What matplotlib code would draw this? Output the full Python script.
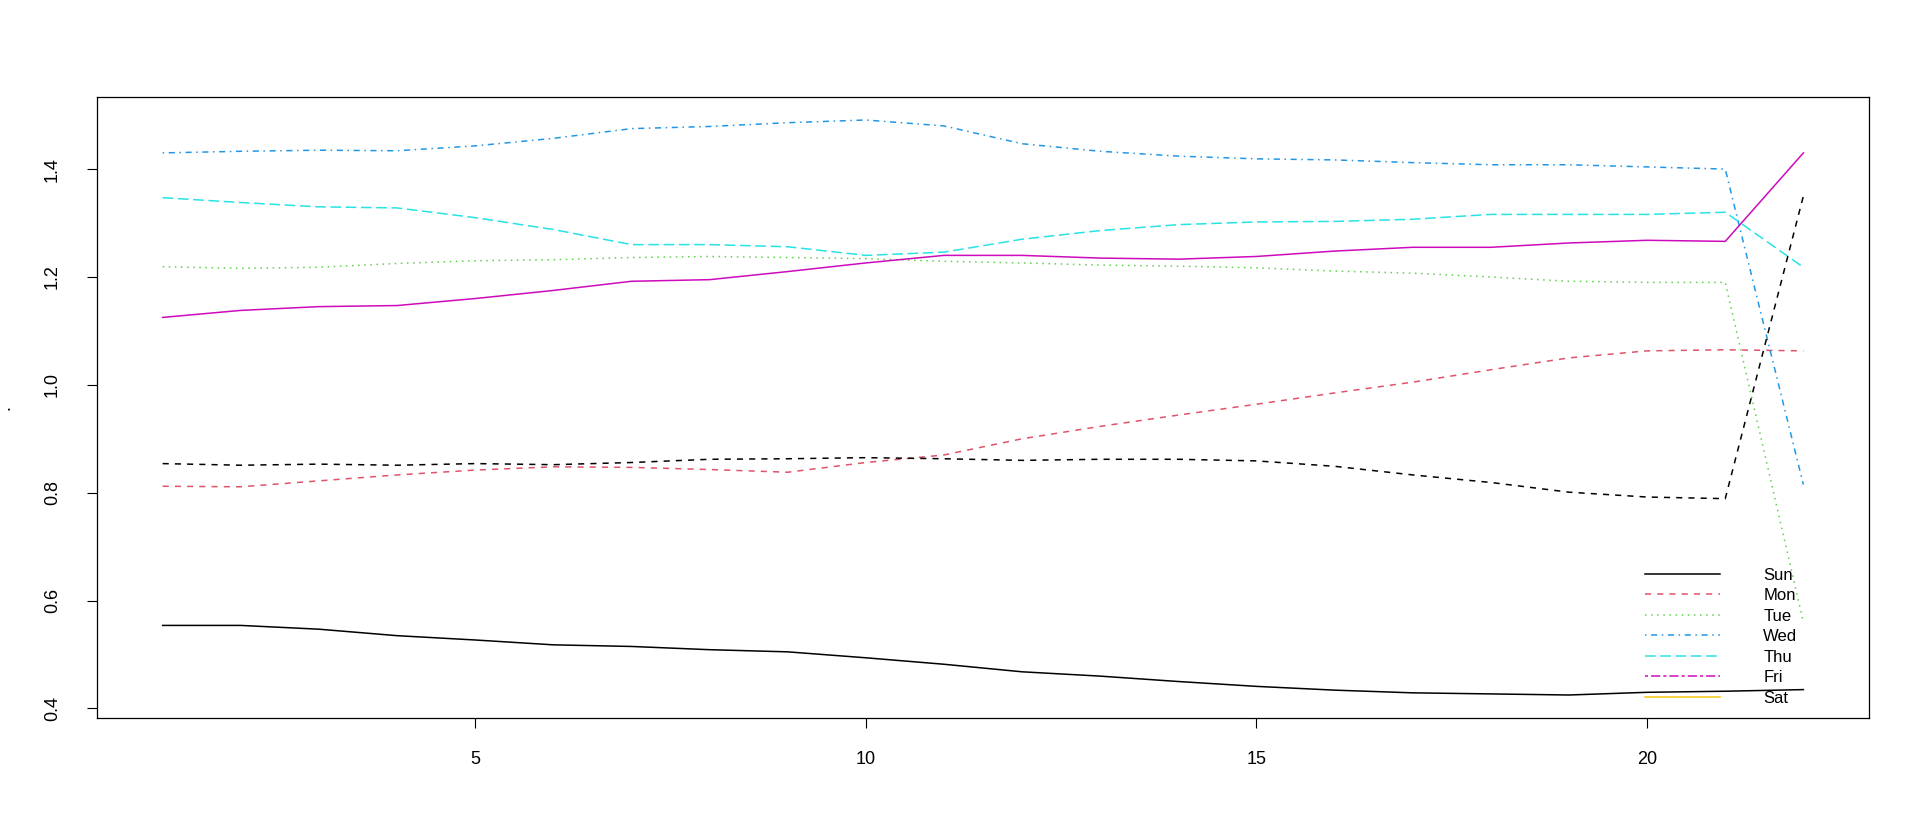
import matplotlib
matplotlib.use("Agg")
import matplotlib.pyplot as plt
import numpy as np
from matplotlib.lines import Line2D

plt.rcParams['font.family'] = ['Liberation Sans', 'DejaVu Sans']

x = np.arange(1, 23)

s1 = [0.554, 0.554, 0.547, 0.535, 0.527, 0.518, 0.515, 0.509, 0.505, 0.494, 0.482,
      0.468, 0.460, 0.450, 0.441, 0.434, 0.429, 0.427, 0.425, 0.430, 0.432, 0.435]
s2 = [0.812, 0.811, 0.822, 0.833, 0.842, 0.848, 0.847, 0.843, 0.838, 0.856, 0.870,
      0.900, 0.923, 0.944, 0.964, 0.985, 1.005, 1.028, 1.050, 1.063, 1.065, 1.063]
s3 = [1.219, 1.216, 1.218, 1.225, 1.230, 1.232, 1.236, 1.238, 1.236, 1.234, 1.229,
      1.226, 1.222, 1.220, 1.217, 1.211, 1.207, 1.200, 1.192, 1.190, 1.190, 0.560]
s4 = [1.430, 1.433, 1.435, 1.434, 1.443, 1.457, 1.475, 1.479, 1.486, 1.491, 1.480,
      1.447, 1.433, 1.424, 1.419, 1.417, 1.412, 1.408, 1.408, 1.404, 1.400, 0.815]
s5 = [1.347, 1.338, 1.330, 1.328, 1.310, 1.288, 1.260, 1.260, 1.256, 1.240, 1.246,
      1.270, 1.286, 1.297, 1.302, 1.303, 1.307, 1.316, 1.316, 1.316, 1.320, 1.218]
s6 = [1.125, 1.138, 1.145, 1.147, 1.160, 1.175, 1.192, 1.195, 1.210, 1.226, 1.240,
      1.240, 1.235, 1.233, 1.238, 1.248, 1.255, 1.255, 1.263, 1.268, 1.266, 1.430]
s7 = [0.854, 0.851, 0.853, 0.851, 0.854, 0.852, 0.856, 0.862, 0.863, 0.865, 0.863,
      0.860, 0.862, 0.862, 0.859, 0.849, 0.833, 0.819, 0.801, 0.792, 0.789, 1.350]

series = [s1, s2, s3, s4, s5, s6, s7]
legend_labels = ["Sun", "Mon", "Tue", "Wed", "Thu", "Fri", "Sat"]

palette = ["#000000", "#DF536B", "#61D04F", "#2297E6", "#28E2E5", "#CD0BBC", "#F5C710"]

fig = plt.figure(figsize=(19.2, 8.4), dpi=100)
ax = fig.add_axes([97/1920, 1 - 718/840, (1869-97)/1920, (718-97)/840])

# matplot style: colours cycle 1:6, line types cycle 1:5
plot_cols = palette[:6]
plot_ltys = ["-", (0, (4, 4)), (0, (1, 3)), (0, (1, 3, 4, 3)), (0, (7, 3))]
for i, s in enumerate(series):
    ax.plot(x, s, color=plot_cols[i % 6], linestyle=plot_ltys[i % 5], lw=1.1)

allv = np.concatenate([np.array(s) for s in series])
lo, hi = allv.min(), allv.max()
r = hi - lo
ax.set_ylim(lo - 0.04 * r, hi + 0.04 * r)
ax.set_xlim(1 - 0.04 * 21, 22 + 0.04 * 21)

ax.set_xticks([5, 10, 15, 20])
ax.set_yticks([0.4, 0.6, 0.8, 1.0, 1.2, 1.4])
ax.set_yticklabels(["0.4", "0.6", "0.8", "1.0", "1.2", "1.4"], rotation=90, va='center')
ax.tick_params(axis='both', direction='out', length=7, width=0.8, labelsize=13, colors='black')
ax.tick_params(axis='x', pad=17)
ax.tick_params(axis='y', pad=19)
for sp in ax.spines.values():
    sp.set_linewidth(0.9)
ax.set_ylabel(".", fontsize=13, labelpad=22)

leg_ltys = ["-", (0, (4, 4)), (0, (1, 3)), (0, (1, 3, 4, 3)), (0, (7, 3)), (0, (2, 2, 6, 2)), "-"]
handles = [Line2D([], [], color=c, linestyle=l, lw=1.1) for c, l in zip(palette, leg_ltys)]
ax.legend(handles, legend_labels, loc='lower left', bbox_to_anchor=(0.8736, 0.02),
          frameon=False, fontsize=12, handlelength=4.5, handletextpad=2.6,
          labelspacing=0.33, borderpad=0, borderaxespad=0)

fig.savefig("out.png", dpi=100)
